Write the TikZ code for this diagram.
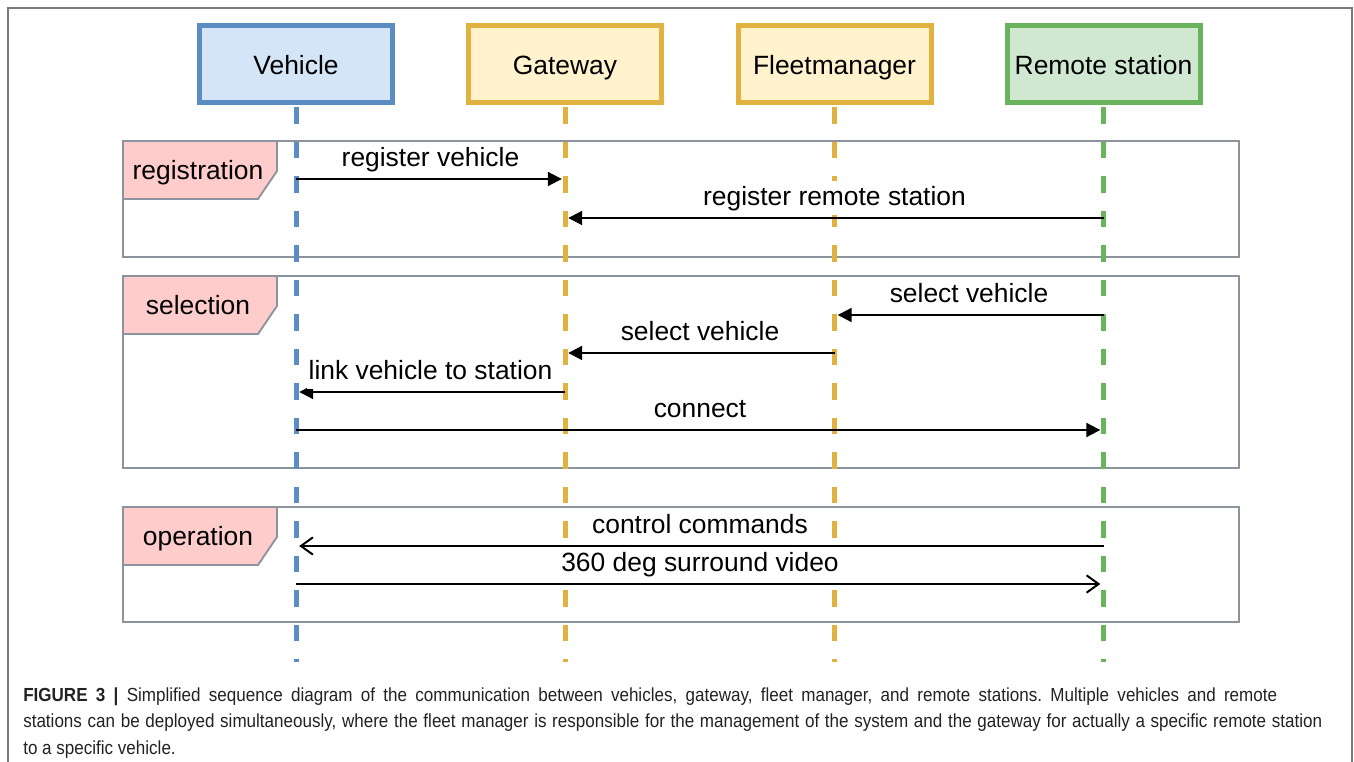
\documentclass[tikz,border=0pt]{standalone}
\usepackage{fontspec}
\setmainfont{Liberation Sans}
\newfontfamily\capfont[FakeStretch=0.9]{Liberation Sans}
\usetikzlibrary{arrows.meta}
\frenchspacing

\definecolor{vehfill}{HTML}{D4E5F8}
\definecolor{vehdraw}{HTML}{5A8DC4}
\definecolor{gwfill}{HTML}{FFF2CC}
\definecolor{gwdraw}{HTML}{E2B241}
\definecolor{rsfill}{HTML}{D0E8D2}
\definecolor{rsdraw}{HTML}{68B35B}
\definecolor{tagfill}{HTML}{FFCCCC}
\definecolor{framegray}{HTML}{8C939D}
\definecolor{outergray}{HTML}{7A7A7A}
\definecolor{captext}{HTML}{222222}

\tikzset{
  head/.style={rectangle, line width=3.75pt, minimum width=144.75pt,
    minimum height=57.75pt, inner sep=0pt, text height=18pt, text depth=1.5pt,
    font=\fontsize{19.8}{24}\selectfont},
  lifeline/.style={line width=3.75pt, dash pattern=on 12.375pt off 13.5pt,
    shorten <=1.875pt},
  frame/.style={draw=framegray, line width=1.4pt},
  tagbox/.style={draw=framegray, fill=tagfill, line width=1.4pt},
  tagtext/.style={anchor=base, inner sep=0pt, font=\fontsize{19.8}{24}\selectfont},
  msg/.style={line width=1.5pt, -{Triangle[length=10.5pt,width=10.5pt]}},
  async/.style={line width=1.5pt, -{Straight Barb[length=9pt,width=13pt,line width=1.5pt]}},
  msglabel/.style={anchor=base, fill=white, inner xsep=1.5pt, inner ysep=0pt,
    text height=18.75pt, text depth=6.75pt, font=\fontsize{19.8}{24}\selectfont},
  capline/.style={anchor=base west, inner sep=0pt, text=captext,
    font=\capfont\fontsize{14.2}{16}\selectfont},
}

\begin{document}
\begin{tikzpicture}[x=0.75pt, y=-0.75pt]
  \useasboundingbox (0,0) rectangle (1354,762);

  % outer figure border (open at the bottom)
  \draw[outergray, line width=1.1pt] (8,762) -- (8,8) -- (1352,8) -- (1352,762);

  % interaction frames
  \draw[frame] (123,141) rectangle (1239,257);
  \draw[frame] (123,276) rectangle (1239,468);
  \draw[frame] (123,507) rectangle (1239,622);

  % frame tags
  \draw[tagbox] (123,141) -- (277,141) -- (277,171) -- (258,199) -- (123,199) -- cycle;
  \node[tagtext] (tagreg) at (198,180) {registration};
  \draw[tagbox] (123,276) -- (277,276) -- (277,306) -- (258,334) -- (123,334) -- cycle;
  \node[tagtext] (tagsel) at (198,315) {selection};
  \draw[tagbox] (123,507) -- (277,507) -- (277,537) -- (258,565) -- (123,565) -- cycle;
  \node[tagtext] (tagop) at (198,546) {operation};

  % participants
  \node[head, fill=vehfill, draw=vehdraw] (veh) at (296,64) {Vehicle};
  \node[head, fill=gwfill, draw=gwdraw] (gw) at (565,64) {Gateway};
  \node[head, fill=gwfill, draw=gwdraw] (fm) at (834.5,64) {Fleetmanager};
  \node[head, fill=rsfill, draw=rsdraw] (rs) at (1103.5,64) {Remote station};

  % lifeline ends
  \coordinate (vehEnd) at (296,662);
  \coordinate (gwEnd) at (565,662);
  \coordinate (fmEnd) at (834.5,662);
  \coordinate (rsEnd) at (1103.5,662);

  \draw[lifeline, vehdraw] (veh.south) -- (vehEnd);
  \draw[lifeline, gwdraw] (gw.south) -- (gwEnd);
  \draw[lifeline, gwdraw] (fm.south) -- (fmEnd);
  \draw[lifeline, rsdraw] (rs.south) -- (rsEnd);

  % message anchor points on the lifelines
  \foreach \n/\x in {v/296, g/565, f/834.5, r/1103.5} {
    \foreach \k/\y in {1/179, 2/218, 3/315, 4/353, 5/392, 6/430, 7/546, 8/584} {
      \coordinate (\n\k) at (\x,\y);
    }
  }

  % registration
  \draw[msg, shorten >=2.4pt] (v1) -- (g1);
  \node[msglabel] (l1) at (430.5,167) {register vehicle};
  \draw[msg, shorten >=2.4pt] (r2) -- (g2);
  \node[msglabel] (l2) at (834.5,206) {register remote station};

  % selection
  \draw[msg, shorten >=2.4pt] (r3) -- (f3);
  \node[msglabel] (l3) at (969,303) {select vehicle};
  \draw[msg, shorten >=2.4pt] (f4) -- (g4);
  \node[msglabel] (l4) at (700,341) {select vehicle};
  \draw[msg, shorten >=2.4pt] (g5) -- (v5);
  \node[msglabel] (l5) at (430.5,380) {link vehicle to station};
  \draw[msg, shorten >=2.4pt] (v6) -- (r6);
  \node[msglabel] (l6) at (700,418) {connect};

  % operation
  \draw[async, shorten >=2.4pt] (r7) -- (v7);
  \node[msglabel] (l7) at (700,534) {control commands};
  \draw[async, shorten >=2.4pt] (v8) -- (r8);
  \node[msglabel] (l8) at (700,572) {360 deg surround video};

  % caption
  \node[capline] (cap1) at (23,702) {\makebox[940.5pt][s]{\textbf{FIGURE 3 |} Simplified sequence diagram of the communication between vehicles, gateway, fleet manager, and remote stations. Multiple vehicles and remote}};
  \node[capline] (cap2) at (23,728) {\makebox[974.25pt][s]{stations can be deployed simultaneously, where the fleet manager is responsible for the management of the system and the gateway for actually a specific remote station}};
  \node[capline] (cap3) at (23,754) {to a specific vehicle.};
\end{tikzpicture}
\end{document}
